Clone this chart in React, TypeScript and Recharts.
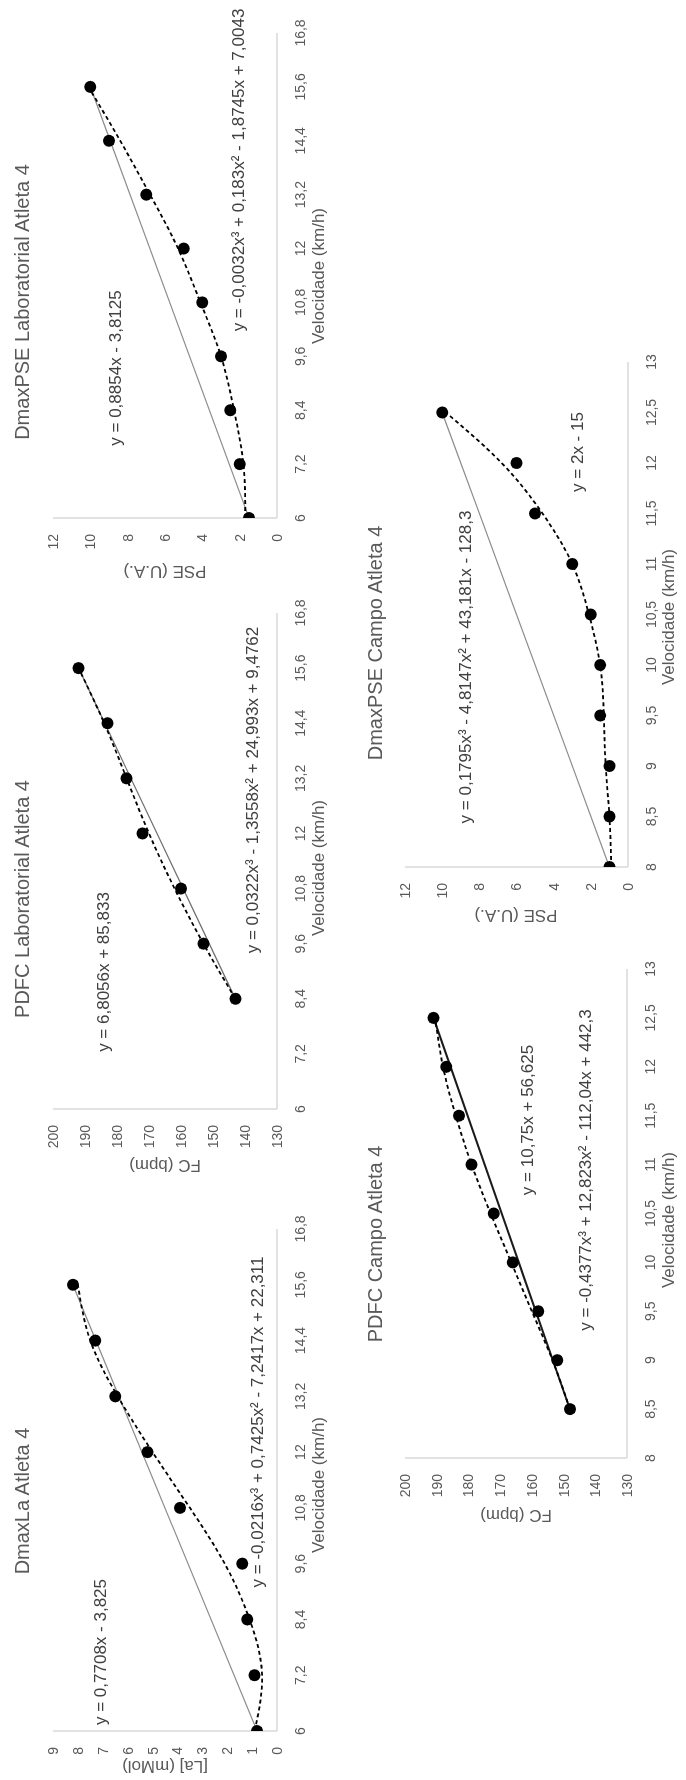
import React from 'react'
import { ComposedChart, XAxis, YAxis, Line, Scatter } from 'recharts'

// velocidades (km/h)
const labSpeeds = [6, 7.2, 8.4, 9.6, 10.8, 12, 13.2, 14.4, 15.6]
const labHrSpeeds = [8.4, 9.6, 10.8, 12, 13.2, 14.4, 15.6]
const fieldSpeeds = [8, 8.5, 9, 9.5, 10, 10.5, 11, 11.5, 12, 12.5]
const fieldHrSpeeds = [8.5, 9, 9.5, 10, 10.5, 11, 11.5, 12, 12.5]

// DmaxLa Atleta 4
const lactate = [0.8, 0.9, 1.2, 1.4, 3.9, 5.2, 6.5, 7.3, 8.2]
const lactateFit = [0.9, 0.6, 1.1, 2.1, 3.5, 5.0, 6.4, 7.5, 8.0]
const lactateDmax = [0.8, 8.2]

// PDFC Laboratorial Atleta 4
const labHr = [143, 153, 160, 172, 177, 183, 192]
const labHrFit = [143, 153, 162, 170, 177, 184, 192]
const labHrLine = [143, 192]

// DmaxPSE Laboratorial Atleta 4
const labRpe = [1.5, 2, 2.5, 3, 4, 5, 7, 9, 10]
const labRpeFit = [1.7, 1.8, 2.3, 3.0, 4.1, 5.3, 6.8, 8.4, 10.1]
const labRpeDmax = [1.5, 10]

// PDFC Campo Atleta 4
const fieldHr = [148, 152, 158, 166, 172, 179, 183, 187, 191]
const fieldHrFit = [148, 153.5, 160, 166.5, 173, 179, 184, 188, 190.5]
const fieldHrLine = [148, 191]

// DmaxPSE Campo Atleta 4
const fieldRpe = [1, 1, 1, 1.5, 1.5, 2, 3, 5, 6, 10]
const fieldRpeFit = [0.9, 1, 1.2, 1.3, 1.5, 2.1, 3, 4.6, 6.8, 9.8]
const fieldRpeDmax = [1, 10]

// ticks
const labTicks = [6, 7.2, 8.4, 9.6, 10.8, 12, 13.2, 14.4, 15.6, 16.8]
const fieldTicks = [8, 8.5, 9, 9.5, 10, 10.5, 11, 11.5, 12, 12.5, 13]
const lactateTicks = [0, 1, 2, 3, 4, 5, 6, 7, 8, 9]
const hrTicks = [130, 140, 150, 160, 170, 180, 190, 200]
const rpeTicks = [0, 2, 4, 6, 8, 10, 12]

const FONT = '"Liberation Sans", Arial, sans-serif'
const comma = (v: number) => String(v).replace('.', ',')

const Dot = (props: any) => <circle cx={props.cx} cy={props.cy} r={6} fill="#000" />

function Panel({ box, xs, ys, fit, ends, xTicks, yTicks, lineColor = '#8c8c8c', lineWidth = 1.2 }: any) {
  const padL = 50, padR = 14, padT = 12, padB = 42
  const w = box.right - box.left
  const h = box.bottom - box.top
  const points = xs.map((x: number, i: number) => ({ x, y: ys[i] }))
  const fitPoints = xs.map((x: number, i: number) => ({ x, y: fit[i] }))
  const linePoints = [
    { x: xs[0], y: ends[0] },
    { x: xs[xs.length - 1], y: ends[1] }
  ]
  const tickStyle = { fill: '#595959', fontSize: 14, fontFamily: FONT }

  return (
    <div style={{ position: 'absolute', left: box.left - padL, top: box.top - padT }}>
      <ComposedChart
        width={w + padL + padR}
        height={h + padT + padB}
        margin={{ top: padT, right: padR, bottom: padB - 30, left: padL - 40 }}
      >
        <XAxis
          type="number"
          dataKey="x"
          domain={[xTicks[0], xTicks[xTicks.length - 1]]}
          ticks={xTicks}
          interval={0}
          allowDataOverflow
          height={30}
          tickLine={false}
          tickMargin={12}
          axisLine={{ stroke: '#d9d9d9', strokeWidth: 1.5 }}
          tick={tickStyle}
          tickFormatter={comma}
        />
        <YAxis
          type="number"
          domain={[yTicks[0], yTicks[yTicks.length - 1]]}
          ticks={yTicks}
          interval={0}
          allowDataOverflow
          width={40}
          tickLine={false}
          tickMargin={10}
          axisLine={{ stroke: '#d9d9d9', strokeWidth: 1.5 }}
          tick={tickStyle}
        />
        <Line
          data={linePoints}
          dataKey="y"
          type="linear"
          stroke={lineColor}
          strokeWidth={lineWidth}
          dot={false}
          isAnimationActive={false}
        />
        <Line
          data={fitPoints}
          dataKey="y"
          type="natural"
          stroke="#000"
          strokeWidth={1.8}
          strokeDasharray="4 3"
          dot={false}
          isAnimationActive={false}
        />
        <Scatter data={points} dataKey="y" shape={Dot} isAnimationActive={false} />
      </ComposedChart>
    </div>
  )
}

function Txt({ u, v, size = 17, color = '#404040', rot = false, children }: any) {
  return (
    <div
      style={{
        position: 'absolute',
        left: u,
        top: v,
        transform: `translate(-50%, -50%)${rot ? ' rotate(-90deg)' : ''}`,
        fontSize: size,
        lineHeight: 1,
        whiteSpace: 'nowrap',
        color,
        fontFamily: FONT
      }}
    >
      {children}
    </div>
  )
}

export default function App() {
  return (
    <div
      style={{
        position: 'fixed',
        left: 0,
        top: 1780,
        width: 1780,
        height: 686,
        transformOrigin: '0 0',
        transform: 'rotate(-90deg)',
        background: '#fff',
        overflow: 'hidden'
      }}
    >
      {/* linha de cima */}
      <Panel box={{ left: 49, right: 551, top: 53, bottom: 277 }} xs={labSpeeds} ys={lactate}
        fit={lactateFit} ends={lactateDmax} xTicks={labTicks} yTicks={lactateTicks} />
      <Panel box={{ left: 671, right: 1167, top: 53, bottom: 277 }} xs={labHrSpeeds} ys={labHr}
        fit={labHrFit} ends={labHrLine} xTicks={labTicks} yTicks={hrTicks} lineColor="#6e6e6e" />
      <Panel box={{ left: 1262, right: 1747, top: 53, bottom: 277 }} xs={labSpeeds} ys={labRpe}
        fit={labRpeFit} ends={labRpeDmax} xTicks={labTicks} yTicks={rpeTicks} />
      {/* linha de baixo */}
      <Panel box={{ left: 322, right: 811, top: 405, bottom: 627 }} xs={fieldHrSpeeds} ys={fieldHr}
        fit={fieldHrFit} ends={fieldHrLine} xTicks={fieldTicks} yTicks={hrTicks} lineColor="#1a1a1a" lineWidth={2} />
      <Panel box={{ left: 913, right: 1418, top: 405, bottom: 628 }} xs={fieldSpeeds} ys={fieldRpe}
        fit={fieldRpeFit} ends={fieldRpeDmax} xTicks={fieldTicks} yTicks={rpeTicks} />

      <Txt u={279} v={22} size={20} color="#595959">DmaxLa Atleta 4</Txt>
      <Txt u={881} v={22} size={20} color="#595959">PDFC Laboratorial Atleta 4</Txt>
      <Txt u={1478} v={22} size={20} color="#595959">DmaxPSE Laboratorial Atleta 4</Txt>
      <Txt u={536} v={375} size={20} color="#595959">PDFC Campo Atleta 4</Txt>
      <Txt u={1137} v={375} size={20} color="#595959">DmaxPSE Campo Atleta 4</Txt>

      <Txt u={295} v={318} color="#595959">Velocidade (km/h)</Txt>
      <Txt u={912} v={318} color="#595959">Velocidade (km/h)</Txt>
      <Txt u={1504} v={318} color="#595959">Velocidade (km/h)</Txt>
      <Txt u={560} v={668} color="#595959">Velocidade (km/h)</Txt>
      <Txt u={1163} v={668} color="#595959">Velocidade (km/h)</Txt>

      <Txt u={13} v={165} rot color="#595959">[La] (mMol)</Txt>
      <Txt u={614} v={165} rot color="#595959">FC (bpm)</Txt>
      <Txt u={1208} v={165} rot color="#595959">PSE (U.A.)</Txt>
      <Txt u={264} v={516} rot color="#595959">FC (bpm)</Txt>
      <Txt u={864} v={516} rot color="#595959">PSE (U.A.)</Txt>

      <Txt u={128} v={100}>y = 0,7708x - 3,825</Txt>
      <Txt u={358} v={257}>y = -0,0216x³ + 0,7425x² - 7,2417x + 22,311</Txt>
      <Txt u={808} v={103}>y = 6,8056x + 85,833</Txt>
      <Txt u={990} v={252}>y = 0,0322x³ - 1,3558x² + 24,993x + 9,4762</Txt>
      <Txt u={1412} v={115}>y = 0,8854x - 3,8125</Txt>
      <Txt u={1610} v={238}>y = -0,0032x³ + 0,183x² - 1,8745x + 7,0043</Txt>
      <Txt u={660} v={527}>y = 10,75x + 56,625</Txt>
      <Txt u={610} v={585}>y = -0,4377x³ + 12,823x² - 112,04x + 442,3</Txt>
      <Txt u={1113} v={465}>y = 0,1795x³ - 4,8147x² + 43,181x - 128,3</Txt>
      <Txt u={1328} v={577}>y = 2x - 15</Txt>
    </div>
  )
}
